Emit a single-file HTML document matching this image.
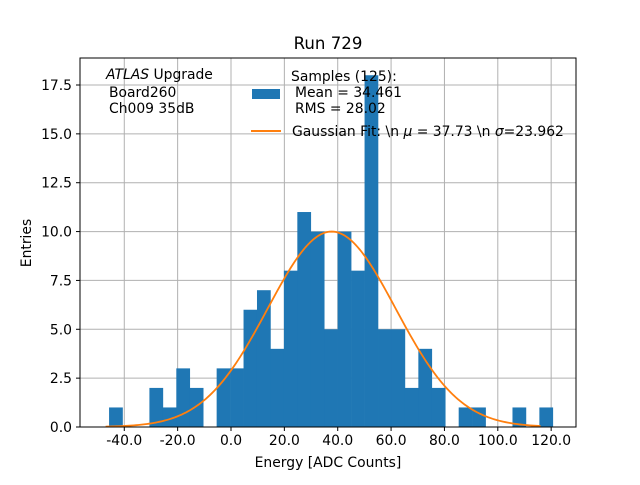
<!DOCTYPE html>
<html><head><meta charset="utf-8"><style>
body{margin:0;background:#fff}
svg{font-family:"DejaVu Sans","Liberation Sans",sans-serif}
</style></head><body>
<svg id="chart" width="640" height="480" viewBox="0 0 640 480">
<rect width="640" height="480" fill="#fff"/>
<g id="grid"></g>
<g id="bars"></g>
<g id="fit"></g>
<rect x="80" y="58" width="496" height="369" fill="none" stroke="#000" stroke-width="1"/>
<g id="xticks"></g>
<g id="yticks"></g>
<text x="328" y="49" font-size="16.6" text-anchor="middle">Run 729</text>
<text x="328" y="467" font-size="13.9" text-anchor="middle">Energy [ADC Counts]</text>
<text x="31" y="243" font-size="13.9" text-anchor="middle" transform="rotate(-90 31 243)">Entries</text>
<g font-size="13.9">
<text x="106" y="79"><tspan font-style="italic">ATLAS</tspan> Upgrade</text>
<text x="109" y="97">Board260</text>
<text x="109" y="113">Ch009 35dB</text>
</g>
<g font-size="13.9">
<text x="291" y="81">Samples (125):</text>
<rect x="252" y="89" width="28" height="10" fill="#1f77b4"/>
<text x="295" y="97">Mean = 34.461</text>
<text x="295" y="113">RMS = 28.02</text>
<line x1="251" y1="131" x2="281" y2="131" stroke="#ff7f0e" stroke-width="2"/>
<text x="292" y="136">Gaussian Fit: \n <tspan font-style="italic">μ</tspan> = 37.73 \n <tspan font-style="italic">σ</tspan>=23.962</text>
</g>
</svg>
<script>
const binStart = -45.7;
const binWidth = 5.04;
const counts = [1,0,0,2,1,3,2,0,3,3,6,7,4,8,11,10,5,10,8,18,5,5,2,4,2,0,1,1,0,0,1,0,1];
const xTicks = [-40,-20,0,20,40,60,80,100,120];
const yTicks = [0,2.5,5,7.5,10,12.5,15,17.5];
const fitMu = 37.73, fitSigma = 23.962, fitAmp = 10.0, fitMin = -47, fitMax = 116;
const ns = 'http://www.w3.org/2000/svg';
const X = v => 231 + v * 2.668;
const Y = v => 427 - v * 19.543;
function mk(tag, attrs, parent){const e=document.createElementNS(ns,tag);for(const k in attrs)e.setAttribute(k,attrs[k]);parent.appendChild(e);return e;}
const grid=document.getElementById('grid'), bars=document.getElementById('bars'), xt=document.getElementById('xticks'), yt=document.getElementById('yticks'), fit=document.getElementById('fit');
xTicks.forEach(t=>{
  const gl=mk('line',{x1:X(t),x2:X(t),y1:58,y2:427,stroke:'#b0b0b0','stroke-width':1},grid);
  
  
  const tk=mk('line',{x1:X(t),x2:X(t),y1:427,y2:431,stroke:'#000'},xt);
  
  
  const tx=mk('text',{x:X(t),y:445,'font-size':13.9,'text-anchor':'middle'},xt);
  tx.textContent=t.toFixed(1);
  
  
});
yTicks.forEach(t=>{
  const gl=mk('line',{x1:80,x2:576,y1:Y(t),y2:Y(t),stroke:'#b0b0b0','stroke-width':1},grid);
  
  
  const tk=mk('line',{x1:76,x2:80,y1:Y(t),y2:Y(t),stroke:'#000'},yt);
  
  
  const tx=mk('text',{x:72,y:Y(t)+5,'font-size':13.9,'text-anchor':'end'},yt);
  tx.textContent=t.toFixed(1);
  
  
});
counts.forEach((c,i)=>{
  if(!c) return;
  const x0=X(binStart+i*binWidth), x1=X(binStart+(i+1)*binWidth);
  const r=mk('rect',{x:x0,y:Y(c),width:x1-x0+0.3,height:Y(0)-Y(c),fill:'#1f77b4'},bars);
  
  
});
let d='';
for(let i=0;i<=200;i++){const v=fitMin+(fitMax-fitMin)*i/200;const y=fitAmp*Math.exp(-0.5*((v-fitMu)/fitSigma)**2);d+=(i?'L':'M')+X(v).toFixed(2)+','+Y(y).toFixed(2);}
const p=mk('path',{d:d,fill:'none',stroke:'#ff7f0e','stroke-width':1.8},fit);


</script>
</body></html>
